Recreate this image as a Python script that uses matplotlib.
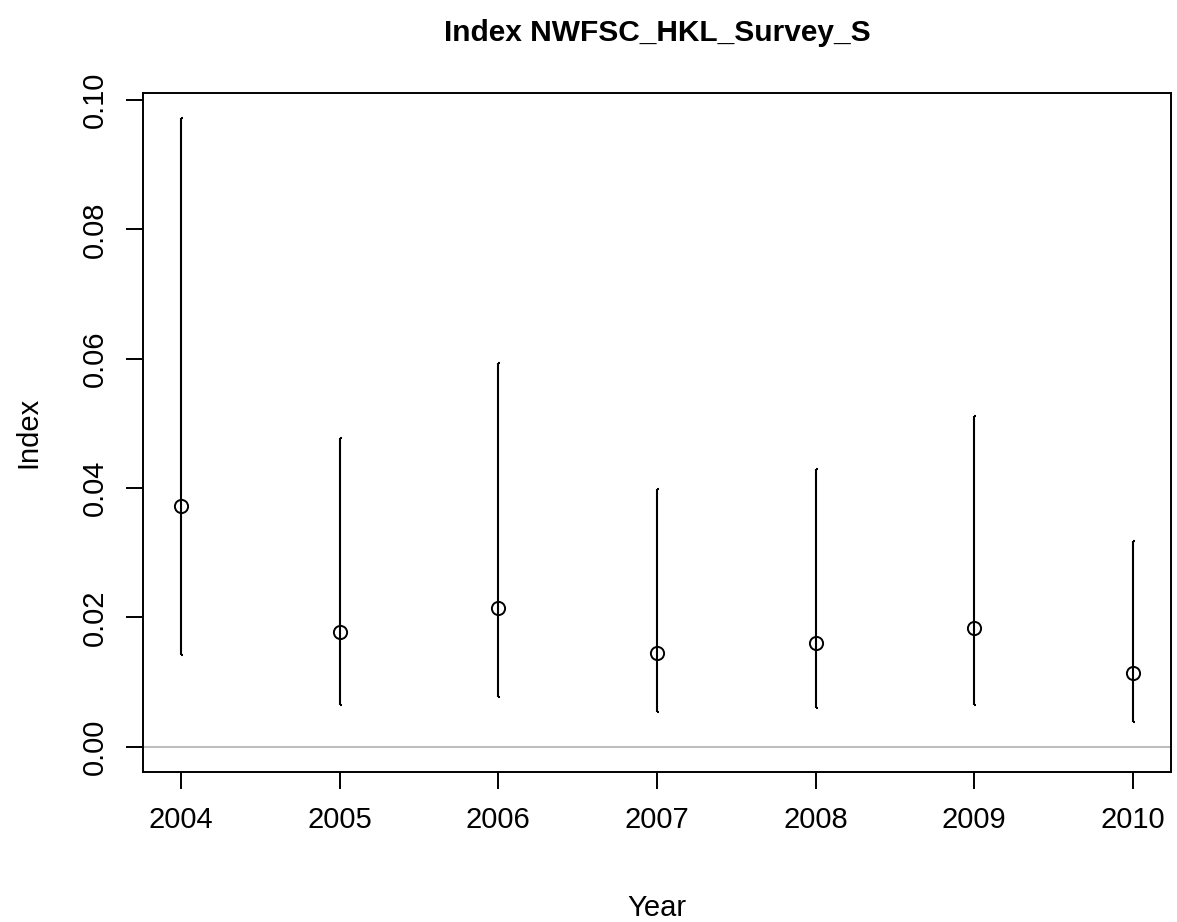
import matplotlib
matplotlib.use("Agg")
import matplotlib.pyplot as plt
import numpy as np

years = [2004, 2005, 2006, 2007, 2008, 2009, 2010]
index_vals = [0.0373, 0.0178, 0.0215, 0.01455, 0.0161, 0.0183, 0.01146]
lower_ci = [0.01424, 0.0065, 0.0077, 0.0054, 0.0060, 0.0065, 0.0039]
upper_ci = [0.0972, 0.0477, 0.0593, 0.0398, 0.0430, 0.0511, 0.0318]
y_ticks = [0.00, 0.02, 0.04, 0.06, 0.08, 0.10]

plt.rcParams['font.family'] = ['Liberation Sans', 'DejaVu Sans']

fig = plt.figure(figsize=(11.77, 9.22), dpi=100)
ax = fig.add_axes([143 / 1177, 1 - 772 / 922, (1171 - 143) / 1177, (772 - 93) / 922])

x = np.array(years, dtype=float)
y = np.array(index_vals)
lo = np.array(lower_ci)
hi = np.array(upper_ci)

ax.axhline(0, color='#bebebe', lw=1.5, zorder=1)
ax.vlines(x, lo, hi, color='black', lw=1.5, zorder=2)
ax.hlines(lo, x, x + 0.012, color='black', lw=1.5, zorder=2)
ax.hlines(hi, x, x + 0.012, color='black', lw=1.5, zorder=2)
ax.plot(x, y, linestyle='none', marker='o', markersize=9.5,
        markerfacecolor='none', markeredgecolor='black', markeredgewidth=1.4, zorder=3)

ymax = hi.max()
pad_y = 0.04 * ymax
ax.set_ylim(-pad_y, ymax + pad_y)
pad_x = 0.04 * (x.max() - x.min())
ax.set_xlim(x.min() - pad_x, x.max() + pad_x)

ax.set_xticks(years)
ax.set_xticklabels([str(v) for v in years])
ax.set_yticks(y_ticks)
ax.set_yticklabels([f"{v:.2f}" for v in y_ticks], rotation=90, va='center')

for s in ax.spines.values():
    s.set_linewidth(1.4)
ax.tick_params(axis='both', direction='out', length=12.5, width=1.4, labelsize=21, pad=12)

ax.set_xlabel('Year', fontsize=21, labelpad=43)
ax.set_ylabel('Index', fontsize=21, labelpad=28)
fig.text((143 + 1171) / 2 / 1177, 1 - 33 / 922, 'Index NWFSC_HKL_Survey_S',
         ha='center', va='center', fontsize=21.5, fontweight='bold')

fig.savefig('out.png', dpi=100)
